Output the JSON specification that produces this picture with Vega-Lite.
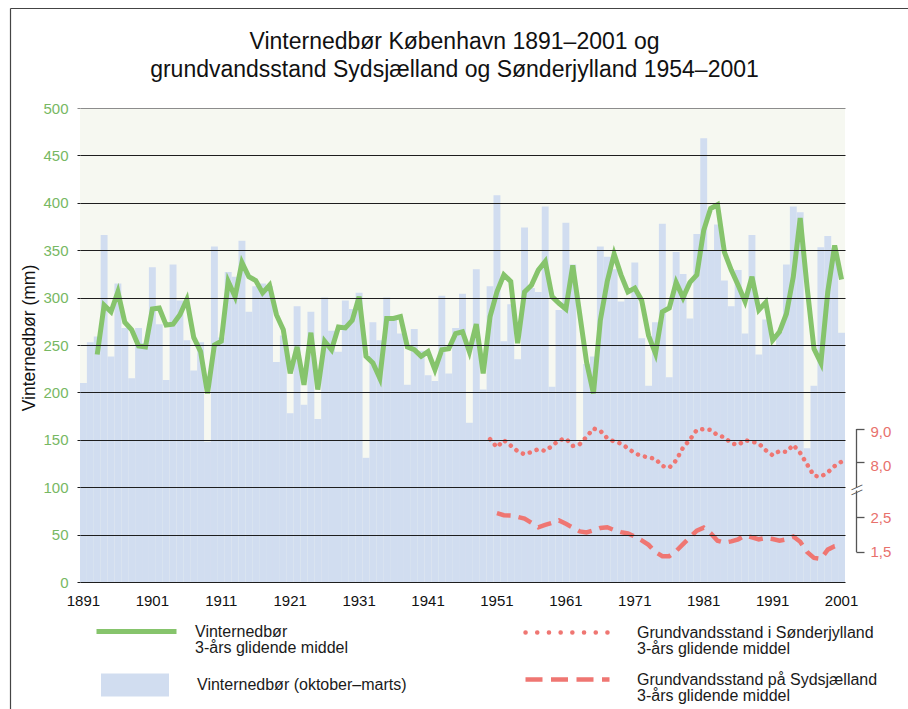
{
  "$schema": "https://vega.github.io/schema/vega-lite/v6.json",
  "width": 765,
  "height": 474,
  "autosize": {"type": "none"},
  "padding": {"left": 80, "top": 108, "right": 63, "bottom": 127},
  "background": "white",
  "config": {"font": "Liberation Sans", "view": {"fill": "#f6f8f1", "stroke": null}},
  "title": {
    "text": ["Vinternedbør København 1891–2001 og", "grundvandsstand Sydsjælland og Sønderjylland 1954–2001"],
    "fontSize": 23, "fontWeight": "normal", "color": "#111111", "lineHeight": 28,
    "anchor": "middle", "frame": "group", "dx": -8, "dy": 78
  },
  "data": {"values": [
    {"year":1891,"precip":210},{"year":1892,"precip":253},{"year":1893,"precip":259,"ma3":240},{"year":1894,"precip":366,"ma3":292},
    {"year":1895,"precip":238,"ma3":285},{"year":1896,"precip":315,"ma3":306},{"year":1897,"precip":268,"ma3":274},{"year":1898,"precip":215,"ma3":266},
    {"year":1899,"precip":268,"ma3":249},{"year":1900,"precip":252,"ma3":248},{"year":1901,"precip":332,"ma3":288},{"year":1902,"precip":272,"ma3":289},
    {"year":1903,"precip":213,"ma3":271},{"year":1904,"precip":335,"ma3":272},{"year":1905,"precip":297,"ma3":282},{"year":1906,"precip":255,"ma3":298},
    {"year":1907,"precip":223,"ma3":258},{"year":1908,"precip":253,"ma3":243},{"year":1909,"precip":148,"ma3":199},{"year":1910,"precip":354,"ma3":250},
    {"year":1911,"precip":258,"ma3":254},{"year":1912,"precip":327,"ma3":317},{"year":1913,"precip":322,"ma3":301},{"year":1914,"precip":360,"ma3":337},
    {"year":1915,"precip":285,"ma3":322},{"year":1916,"precip":312,"ma3":318},{"year":1917,"precip":315,"ma3":305},{"year":1918,"precip":312,"ma3":313},
    {"year":1919,"precip":232,"ma3":282},{"year":1920,"precip":260,"ma3":266},{"year":1921,"precip":178,"ma3":220},{"year":1922,"precip":291,"ma3":248},
    {"year":1923,"precip":187,"ma3":208},{"year":1924,"precip":285,"ma3":263},{"year":1925,"precip":172,"ma3":203},{"year":1926,"precip":300,"ma3":254},
    {"year":1927,"precip":265,"ma3":245},{"year":1928,"precip":243,"ma3":269},{"year":1929,"precip":297,"ma3":268},{"year":1930,"precip":288,"ma3":276},
    {"year":1931,"precip":305,"ma3":301},{"year":1932,"precip":131,"ma3":238},{"year":1933,"precip":274,"ma3":231},{"year":1934,"precip":255,"ma3":215},
    {"year":1935,"precip":300,"ma3":278},{"year":1936,"precip":279,"ma3":278},{"year":1937,"precip":262,"ma3":280},{"year":1938,"precip":208,"ma3":248},
    {"year":1939,"precip":267,"ma3":245},{"year":1940,"precip":244,"ma3":238},{"year":1941,"precip":218,"ma3":243},{"year":1942,"precip":212,"ma3":224},
    {"year":1943,"precip":302,"ma3":245},{"year":1944,"precip":220,"ma3":246},{"year":1945,"precip":268,"ma3":262},{"year":1946,"precip":304,"ma3":264},
    {"year":1947,"precip":168,"ma3":243},{"year":1948,"precip":330,"ma3":272},{"year":1949,"precip":203,"ma3":220},
    {"year":1950,"precip":312,"ma3":280,"sj":8.68},
    {"year":1951,"precip":408,"ma3":306,"sj":8.44,"sy":2.62},{"year":1952,"precip":254,"ma3":324,"sj":8.65,"sy":2.56},
    {"year":1953,"precip":293,"ma3":317,"sj":8.49,"sy":2.55},{"year":1954,"precip":235,"ma3":252,"sj":8.32,"sy":2.51},
    {"year":1955,"precip":374,"ma3":306,"sj":8.23,"sy":2.46},{"year":1956,"precip":310,"ma3":313,"sj":8.30,"sy":2.34},
    {"year":1957,"precip":306,"ma3":329,"sj":8.38,"sy":2.21},{"year":1958,"precip":396,"ma3":338,"sj":8.33,"sy":2.28},
    {"year":1959,"precip":206,"ma3":301,"sj":8.48,"sy":2.34},{"year":1960,"precip":287,"ma3":294,"sj":8.65,"sy":2.41},
    {"year":1961,"precip":379,"ma3":288,"sj":8.70,"sy":2.31},{"year":1962,"precip":335,"ma3":334,"sj":8.48,"sy":2.20},
    {"year":1963,"precip":148,"ma3":283,"sj":8.53,"sy":2.09},{"year":1964,"precip":230,"ma3":232,"sj":8.75,"sy":2.06},
    {"year":1965,"precip":238,"ma3":199,"sj":9.00,"sy":2.12},{"year":1966,"precip":354,"ma3":276,"sj":8.93,"sy":2.19},
    {"year":1967,"precip":343,"ma3":317,"sj":8.71,"sy":2.21},{"year":1968,"precip":330,"ma3":346,"sj":8.61,"sy":2.13},
    {"year":1969,"precip":296,"ma3":324,"sj":8.55,"sy":2.07},{"year":1970,"precip":299,"ma3":306,"sj":8.41,"sy":2.03},
    {"year":1971,"precip":337,"ma3":310,"sj":8.26,"sy":1.94},{"year":1972,"precip":257,"ma3":297,"sj":8.18,"sy":1.83},
    {"year":1973,"precip":207,"ma3":260,"sj":8.14,"sy":1.70},{"year":1974,"precip":274,"ma3":241,"sj":8.09,"sy":1.49},
    {"year":1975,"precip":378,"ma3":285,"sj":7.88,"sy":1.37},{"year":1976,"precip":216,"ma3":289,"sj":7.83,"sy":1.37},
    {"year":1977,"precip":348,"ma3":316,"sj":8.05,"sy":1.52},{"year":1978,"precip":325,"ma3":300,"sj":8.43,"sy":1.72},
    {"year":1979,"precip":278,"ma3":316,"sj":8.67,"sy":1.92},{"year":1980,"precip":367,"ma3":324,"sj":8.96,"sy":2.11},
    {"year":1981,"precip":468,"ma3":371,"sj":8.98,"sy":2.20},{"year":1982,"precip":350,"ma3":394,"sj":8.96,"sy":2.04},
    {"year":1983,"precip":377,"ma3":398,"sj":8.80,"sy":1.82},{"year":1984,"precip":318,"ma3":348,"sj":8.74,"sy":1.76},
    {"year":1985,"precip":291,"ma3":329,"sj":8.56,"sy":1.80},{"year":1986,"precip":329,"ma3":313,"sj":8.51,"sy":1.86},
    {"year":1987,"precip":262,"ma3":296,"sj":8.65,"sy":1.97},{"year":1988,"precip":366,"ma3":322,"sj":8.61,"sy":1.92},
    {"year":1989,"precip":240,"ma3":287,"sj":8.55,"sy":1.86},{"year":1990,"precip":277,"ma3":295,"sj":8.35,"sy":1.90},
    {"year":1991,"precip":250,"ma3":255,"sj":8.20,"sy":1.87},{"year":1992,"precip":264,"ma3":264,"sj":8.33,"sy":1.82},
    {"year":1993,"precip":335,"ma3":283,"sj":8.30,"sy":1.86},{"year":1994,"precip":396,"ma3":322,"sj":8.51,"sy":1.94},
    {"year":1995,"precip":390,"ma3":384,"sj":8.27,"sy":1.79},{"year":1996,"precip":141,"ma3":311,"sj":7.93,"sy":1.49},
    {"year":1997,"precip":207,"ma3":246,"sj":7.59,"sy":1.32},{"year":1998,"precip":353,"ma3":231,"sj":7.56,"sy":1.29},
    {"year":1999,"precip":365,"ma3":306,"sj":7.69,"sy":1.56},{"year":2000,"precip":352,"ma3":355,"sj":7.88,"sy":1.66},
    {"year":2001,"precip":263,"ma3":319,"sj":8.01,"sy":1.70}
  ]},
  "layer": [
    {
      "encoding": {
        "x": {
          "field": "year", "type": "ordinal",
          "scale": {"paddingInner": 0, "paddingOuter": 0},
          "axis": {
            "values": [1891,1901,1911,1921,1931,1941,1951,1961,1971,1981,1991,2001],
            "title": null, "labelAngle": 0, "ticks": false, "domain": false, "grid": false,
            "labelFontSize": 15, "labelColor": "#111111", "labelPadding": 11,
            "labelFlush": false, "labelOverlap": false
          }
        }
      },
      "layer": [
        {
          "mark": {"type": "bar"},
          "encoding": {
            "y": {
              "field": "precip", "type": "quantitative",
              "scale": {"domain": [0, 500], "nice": false},
              "axis": {
                "values": [0,50,100,150,200,250,300,350,400,450,500],
                "title": "Vinternedbør (mm)",
                "grid": true, "zindex": 1,
                "gridColor": {"condition": {"test": "datum.value === 500", "value": "#8c8c8c"}, "value": "#1e1e1e"},
                "tickColor": {"condition": {"test": "datum.value === 500", "value": "#8c8c8c"}, "value": "#1e1e1e"},
                "gridWidth": 1, "domain": false, "ticks": true, "tickSize": 3,
                "labelColor": "#77b863", "labelFontSize": 15, "labelPadding": 9,
                "labelFlush": false, "labelOverlap": false,
                "titleFontSize": 17.5, "titleFontWeight": "normal", "titleColor": "#111111",
                "titleX": -46, "titleY": 229.5, "titleAlign": "center", "titleBaseline": "alphabetic", "titleAngle": -90
              }
            },
            "color": {
              "datum": "Vinternedbør (oktober–marts)",
              "scale": {"range": ["#d1ddf0"]},
              "legend": {
                "orient": "none", "legendX": 21, "legendY": 543, "title": null, "padding": 0,
                "symbolType": "M-1,-0.338L1,-0.338L1,0.338L-1,0.338Z", "symbolSize": 4624,
                "symbolStrokeWidth": 0, "symbolOpacity": 1,
                "labelFontSize": 16, "labelColor": "#1a1a1a", "labelOffset": 28, "labelLimit": 400
              }
            }
          }
        },
        {
          "mark": {"type": "line", "strokeWidth": 5, "strokeJoin": "miter"},
          "encoding": {
            "y": {"field": "ma3", "type": "quantitative", "scale": {"domain": [0, 500], "nice": false}, "axis": null},
            "color": {
              "datum": "Vinternedbør|3-års glidende middel",
              "scale": {"range": ["#86c46c"]},
              "legend": {
                "orient": "none", "legendX": 14, "legendY": 481, "title": null, "padding": 0,
                "symbolType": "stroke", "symbolSize": 6400, "symbolStrokeWidth": 5,
                "labelExpr": "split(datum.label, '|')",
                "labelFontSize": 16, "labelColor": "#1a1a1a", "labelOffset": 16, "labelLimit": 400,
                "encode": {"labels": {"update": {"lineHeight": {"value": 16.5}}}}
              }
            }
          }
        },
        {
          "mark": {"type": "line", "strokeWidth": 4.5, "strokeDash": [0.1, 7.2], "strokeCap": "round"},
          "encoding": {
            "y": {
              "field": "sj", "type": "quantitative",
              "scale": {"domain": [7.254, 9], "range": [379, 320.5], "nice": false, "zero": false},
              "axis": {
                "orient": "right", "offset": 11, "values": [8, 9],
                "labelExpr": "replace(format(datum.value, '.1f'), '.', ',')",
                "grid": false, "domain": true, "domainColor": "#555555", "domainWidth": 1.3,
                "ticks": true, "tickSize": 8, "tickColor": "#555555", "tickWidth": 1.3,
                "labelColor": "#e8716c", "labelFontSize": 15, "labelPadding": 6, "labelOffset": 3,
                "labelFlush": false, "labelOverlap": false,
                "title": "—", "titleAngle": -25, "titleFontSize": 12, "titleFontWeight": "normal", "titleColor": "#555555",
                "titleX": 0, "titleY": 378, "titleAlign": "center", "titleBaseline": "middle"
              }
            },
            "color": {
              "datum": "Grundvandsstand i Sønderjylland|3-års glidende middel",
              "scale": {"range": ["#ef7672"]},
              "legend": {
                "orient": "none", "legendX": 443, "legendY": 481, "title": null, "padding": 0,
                "symbolType": "stroke", "symbolSize": 6724, "symbolStrokeWidth": 4.5, "symbolDash": [0.1, 11.6],
                "labelExpr": "split(datum.label, '|')",
                "labelFontSize": 16, "labelColor": "#1a1a1a", "labelOffset": 27, "labelLimit": 400,
                "encode": {"symbols": {"update": {"strokeCap": {"value": "round"}}}, "labels": {"update": {"lineHeight": {"value": 16.5}}}}
              }
            }
          }
        },
        {
          "mark": {"type": "line", "strokeWidth": 4.5, "strokeDash": [14, 8]},
          "encoding": {
            "y": {
              "field": "sy", "type": "quantitative",
              "scale": {"domain": [1.5, 3.294], "range": [443.7, 382], "nice": false, "zero": false},
              "axis": {
                "orient": "right", "offset": 11, "values": [1.5, 2.5],
                "labelExpr": "replace(format(datum.value, '.1f'), '.', ',')",
                "grid": false, "domain": true, "domainColor": "#555555", "domainWidth": 1.3,
                "ticks": true, "tickSize": 8, "tickColor": "#555555", "tickWidth": 1.3,
                "labelColor": "#e8716c", "labelFontSize": 15, "labelPadding": 6,
                "labelFlush": false, "labelOverlap": false,
                "title": "—", "titleAngle": -25, "titleFontSize": 12, "titleFontWeight": "normal", "titleColor": "#555555",
                "titleX": 0, "titleY": 383, "titleAlign": "center", "titleBaseline": "middle"
              }
            },
            "color": {
              "datum": "Grundvandsstand på Sydsjælland|3-års glidende middel",
              "scale": {"range": ["#ef7672"]},
              "legend": {
                "orient": "none", "legendX": 443, "legendY": 527, "title": null, "padding": 0,
                "symbolType": "stroke", "symbolSize": 7056, "symbolStrokeWidth": 4.5, "symbolDash": [17, 8.5],
                "labelExpr": "split(datum.label, '|')",
                "labelFontSize": 16, "labelColor": "#1a1a1a", "labelOffset": 25, "labelLimit": 400,
                "encode": {"labels": {"update": {"lineHeight": {"value": 16.5}}}}
              }
            }
          }
        }
      ],
      "resolve": {
        "scale": {"y": "independent", "color": "independent"},
        "axis": {"y": "independent"},
        "legend": {"color": "independent"}
      }
    },
    {
      "mark": {"type": "point", "opacity": 0},
      "encoding": {
        "x": {
          "datum": 0, "type": "quantitative",
          "scale": {"domain": [0, 1], "range": [-70, 828], "nice": false, "zero": false},
          "axis": {"orient": "top", "offset": 100, "domain": true, "domainColor": "#444444", "domainWidth": 1.2,
                   "ticks": false, "labels": false, "grid": false, "title": null}
        },
        "y": {
          "datum": 0, "type": "quantitative",
          "scale": {"domain": [0, 1], "range": [601, -100], "nice": false, "zero": false},
          "axis": {"orient": "left", "offset": 70, "domain": true, "domainColor": "#444444", "domainWidth": 1.2,
                   "ticks": false, "labels": false, "grid": false, "title": null}
        }
      }
    }
  ],
  "resolve": {
    "scale": {"x": "independent", "y": "independent", "color": "independent"},
    "axis": {"x": "independent", "y": "independent"}
  }
}
